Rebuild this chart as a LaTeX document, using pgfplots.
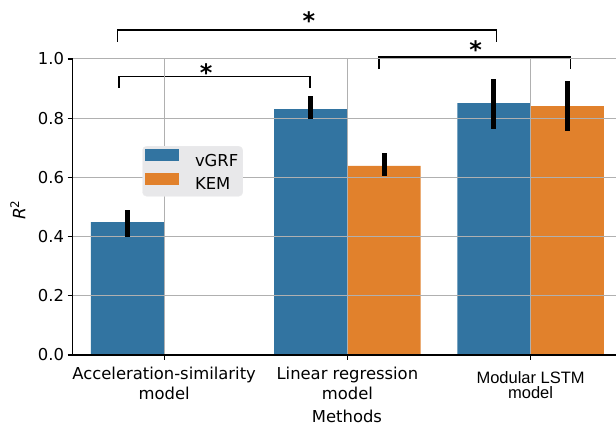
\documentclass[border=0pt]{standalone}
\usepackage{pgfplots}
\pgfplotsset{compat=1.18}
\usepackage{fontspec}
\setmainfont{DejaVu Sans}
\newfontfamily\arialfont{Liberation Sans}
\definecolor{sbblue}{HTML}{3274A1}
\definecolor{sborange}{HTML}{E1812C}
\definecolor{gridgray}{HTML}{B0B0B0}
\definecolor{leggray}{HTML}{E8E8EA}
\newcommand{\fs}{\fontsize{16.4bp}{19.2bp}\selectfont}
\newcommand{\af}{\arialfont\fontsize{16.5bp}{13bp}\selectfont}
\newcommand{\starfont}{\fontsize{24bp}{24bp}\selectfont\bfseries}
\begin{document}
\begin{tikzpicture}
\begin{axis}[
  set layers=axis on top,
  scale only axis,
  width=543.5bp, height=296bp,
  xmin=-0.5, xmax=2.466,
  ymin=0, ymax=1.0,
  axis x line*=bottom, axis y line*=left,
  axis line style={black, line width=1.2bp, -},
  xtick={0,1,2},
  xticklabels={{Acceleration-similarity\\model},{Linear regression\\model},{{\af\rule{0pt}{16bp}Modular LSTM}\\[-4.3bp]{\af model}}},
  xticklabel style={align=center, font=\fs, yshift=-4bp},
  ytick={0,0.2,0.4,0.6,0.8,1.0},
  yticklabel style={font=\fs, /pgf/number format/.cd, fixed, fixed zerofill, precision=1, assume math mode=true},
  tick align=outside,
  major tick length=5bp,
  tick style={black, line width=1.2bp},
  xmajorgrids, ymajorgrids,
  major grid style={gridgray, line width=1bp},
  xlabel={Methods},
  xlabel style={font=\fs, at={(axis description cs:0.505,-0.206)}, anchor=center},
  ylabel={\fontsize{17bp}{17bp}\selectfont\textit{R}\textsuperscript{2}},
  ylabel style={at={(axis description cs:-0.1007,0.49)}, anchor=center},
  legend style={at={(axis description cs:0.1285,0.706)}, anchor=north west, fill=leggray, draw=leggray!80!white, rounded corners=4bp, font=\fs, inner xsep=2.5bp, inner ysep=3bp, row sep=3.5bp,
    /tikz/every odd column/.append style={column sep=14bp}},
  legend cell align=left,
  legend image code/.code={\path[#1, draw=none, sharp corners] (0bp,-0.5bp) rectangle (34bp,11.5bp);},
  clip=false,
]
\addplot[ybar, bar width=0.4, bar shift=-0.2, fill=sbblue, draw=none]
  coordinates {(0,0.449) (1,0.831) (2,0.851)};
\addlegendentry{vGRF}
\addplot[ybar, bar width=0.4, bar shift=0.2, fill=sborange, draw=none]
  coordinates {(1,0.639) (2,0.841)};
\addlegendentry{KEM}
% error bars (drawn above the grid)
\addplot[draw=none, mark=none, on layer=axis foreground, forget plot,
  error bars/.cd, y dir=both, y explicit, error mark=none,
  error bar style={black, line width=5bp}]
  coordinates {(-0.2,0.449) += (0,0.041) -= (0,0.049)
               (0.8,0.831) += (0,0.043) -= (0,0.035)
               (1.8,0.851) += (0,0.080) -= (0,0.088)};
\addplot[draw=none, mark=none, on layer=axis foreground, forget plot,
  error bars/.cd, y dir=both, y explicit, error mark=none,
  error bar style={black, line width=5bp}]
  coordinates {(1.2,0.639) += (0,0.043) -= (0,0.034)
               (2.2,0.841) += (0,0.084) -= (0,0.084)};
% significance brackets
\draw[black, line width=1.5bp] (axis cs:-0.246,0.902) -- (axis cs:-0.246,0.940) -- (axis cs:0.795,0.940) -- (axis cs:0.795,0.902);
\node[font=\starfont, yshift=-5bp] at (axis cs:0.23,0.972) {*};
\draw[black, line width=1.5bp] (axis cs:-0.255,1.058) -- (axis cs:-0.255,1.098) -- (axis cs:1.814,1.098) -- (axis cs:1.814,1.058);
\node[font=\starfont, yshift=-5bp] at (axis cs:0.79,1.145) {*};
\draw[black, line width=1.5bp] (axis cs:1.173,0.966) -- (axis cs:1.173,1.006) -- (axis cs:2.219,1.006) -- (axis cs:2.219,0.966);
\node[font=\starfont, yshift=-5bp] at (axis cs:1.70,1.048) {*};
\coordinate (BL) at (rel axis cs:-0.1334,-0.2399);
\coordinate (TR) at (rel axis cs:1,1.1993);
\end{axis}
\pgfresetboundingbox
\path[use as bounding box] (BL) rectangle (TR);
\end{tikzpicture}
\end{document}
